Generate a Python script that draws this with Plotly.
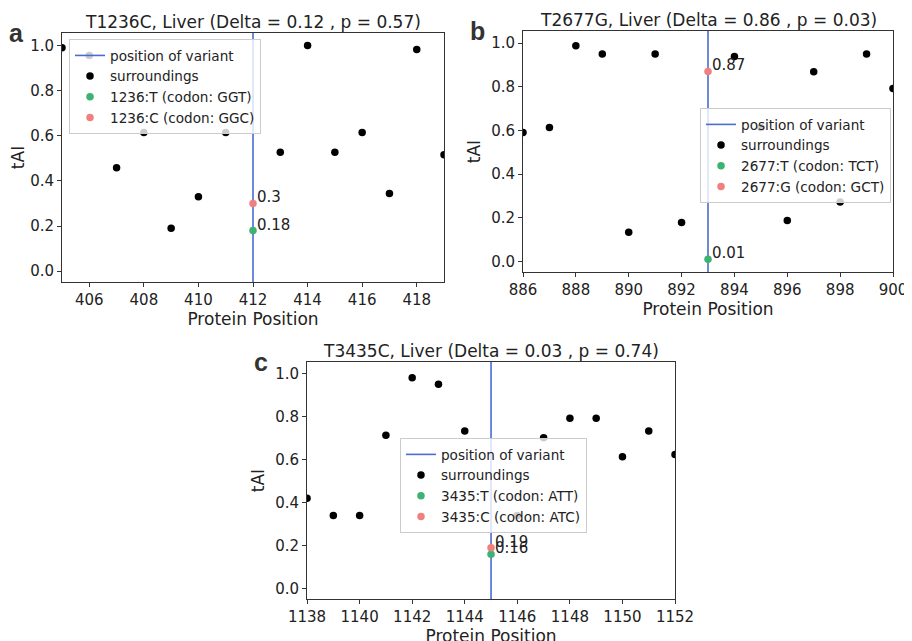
import plotly.graph_objects as go

# ---------------- data ----------------
titles = ["T1236C, Liver (Delta = 0.12 , p = 0.57)",
          "T2677G, Liver (Delta = 0.86 , p = 0.03)",
          "T3435C, Liver (Delta = 0.03 , p = 0.74)"]
panel_letters = ["a", "b", "c"]

pos_a = [405, 406, 407, 408, 409, 410, 411, 413, 414, 415, 416, 417, 418, 419]
tai_a = [0.99, 0.955, 0.458, 0.614, 0.19, 0.33, 0.614, 0.527, 1.0, 0.527, 0.614, 0.344, 0.982, 0.516]
var_a = 412
ref_a, alt_a = 0.18, 0.30
ref_lab_a, alt_lab_a = "1236:T (codon: GGT)", "1236:C (codon: GGC)"

pos_b = [886, 887, 888, 889, 890, 891, 892, 894, 895, 896, 897, 898, 899, 900]
tai_b = [0.59, 0.613, 0.988, 0.95, 0.134, 0.95, 0.179, 0.938, 0.613, 0.188, 0.868, 0.272, 0.95, 0.792]
var_b = 893
ref_b, alt_b = 0.01, 0.87
ref_lab_b, alt_lab_b = "2677:T (codon: TCT)", "2677:G (codon: GCT)"

pos_c = [1138, 1139, 1140, 1141, 1142, 1143, 1144, 1146, 1147, 1148, 1149, 1150, 1151, 1152]
tai_c = [0.421, 0.341, 0.341, 0.714, 0.982, 0.952, 0.734, 0.341, 0.703, 0.793, 0.793, 0.614, 0.734, 0.625]
var_c = 1145
ref_c, alt_c = 0.16, 0.19
ref_lab_c, alt_lab_c = "3435:T (codon: ATT)", "3435:C (codon: ATC)"

y_ticks = [0.0, 0.2, 0.4, 0.6, 0.8, 1.0]
y_range = [-0.048, 1.055]

# ---------------- styling ----------------
FONT = "DejaVu Sans"
BLUE = "#4a6cd0"
GREEN = "#3cb371"
RED = "#f08080"
TXT = "#222222"
W, H = 912, 641

panels = [
    dict(pos=pos_a, tai=tai_a, var=var_a, ref=ref_a, alt=alt_a, rl=ref_lab_a, al=alt_lab_a,
         xr=[405, 419], xt=list(range(406, 419, 2)),
         xd=[0.0592, 0.4781], yd=[0.5725, 0.9610], leg=dict(x=0.0669, y=0.9515)),
    dict(pos=pos_b, tai=tai_b, var=var_b, ref=ref_b, alt=alt_b, rl=ref_lab_b, al=alt_lab_b,
         xr=[886, 900], xt=list(range(886, 901, 2)),
         xd=[0.5647, 0.9704], yd=[0.5881, 0.9641], leg=dict(x=0.7588, y=0.8439)),
    dict(pos=pos_c, tai=tai_c, var=var_c, ref=ref_c, alt=alt_c, rl=ref_lab_c, al=alt_lab_c,
         xr=[1138, 1152], xt=list(range(1138, 1153, 2)),
         xd=[0.3279, 0.7314], yd=[0.0780, 0.4477], leg=dict(x=0.4298, y=0.3291)),
]

fig = go.Figure()
layout = dict(
    width=W, height=H,
    margin=dict(l=0, r=0, t=0, b=0, autoexpand=False),
    paper_bgcolor="white", plot_bgcolor="white",
    font=dict(family=FONT, size=15, color=TXT),
    annotations=[],
)

for i, p in enumerate(panels):
    sfx = "" if i == 0 else str(i + 1)
    xa, ya = "x" + sfx, "y" + sfx
    legname = "legend" + sfx

    fig.add_trace(go.Scatter(
        x=[p["var"], p["var"]], y=y_range, mode="lines",
        line=dict(color=BLUE, width=1.6), name="position of variant",
        xaxis=xa, yaxis=ya, legend=legname, cliponaxis=True))
    fig.add_trace(go.Scatter(
        x=p["pos"], y=p["tai"], mode="markers",
        marker=dict(color="black", size=7.5), name="surroundings",
        xaxis=xa, yaxis=ya, legend=legname, cliponaxis=True))
    fig.add_trace(go.Scatter(
        x=[p["var"]], y=[p["ref"]], mode="markers",
        marker=dict(color=GREEN, size=7.5), name=p["rl"],
        xaxis=xa, yaxis=ya, legend=legname, cliponaxis=False))
    fig.add_trace(go.Scatter(
        x=[p["var"]], y=[p["alt"]], mode="markers",
        marker=dict(color=RED, size=7.5), name=p["al"],
        xaxis=xa, yaxis=ya, legend=legname, cliponaxis=False))

    for val in (p["ref"], p["alt"]):
        layout["annotations"].append(dict(
            text=f"{val:g}", xref=xa, yref=ya, x=p["var"], y=val,
            xanchor="left", yanchor="bottom", xshift=2, yshift=-5,
            showarrow=False, font=dict(size=15, family=FONT, color=TXT)))

    axis_common = dict(
        showgrid=False, zeroline=False, showline=True, mirror=True,
        linecolor="#333333", linewidth=1, ticks="outside", ticklen=4,
        tickcolor="#333333", tickfont=dict(size=15), automargin=False)
    layout["xaxis" + sfx] = dict(
        domain=p["xd"], anchor=ya, range=p["xr"], tickvals=p["xt"],
        title=dict(text="Protein Position", font=dict(size=17), standoff=2),
        **axis_common)
    layout["yaxis" + sfx] = dict(
        domain=p["yd"], anchor=xa, range=y_range, tickvals=y_ticks,
        tickformat=".1f",
        title=dict(text="tAI", font=dict(size=17), standoff=6),
        **axis_common)
    layout[legname] = dict(
        x=p["leg"]["x"], y=p["leg"]["y"], xanchor="left", yanchor="top",
        xref="paper", yref="paper",
        bgcolor="rgba(255,255,255,0.8)", bordercolor="#cccccc", borderwidth=1,
        font=dict(size=13.6, family=FONT, color=TXT), tracegroupgap=0, itemwidth=30)

    layout["annotations"].append(dict(
        text=titles[i], xref="paper", yref="paper",
        x=(p["xd"][0] + p["xd"][1]) / 2, y=p["yd"][1],
        xanchor="center", yanchor="bottom", yshift=-1, showarrow=False,
        font=dict(size=17, family=FONT, color=TXT)))
    layout["annotations"].append(dict(
        text="<b>" + panel_letters[i] + "</b>", xref="paper", yref="paper",
        x=p["xd"][0] - 55 / W, y=p["yd"][1],
        xanchor="left", yanchor="middle", showarrow=False,
        font=dict(size=25, family="Liberation Sans", color="#333333")))

fig.update_layout(**layout)
fig.write_html("out.html")
